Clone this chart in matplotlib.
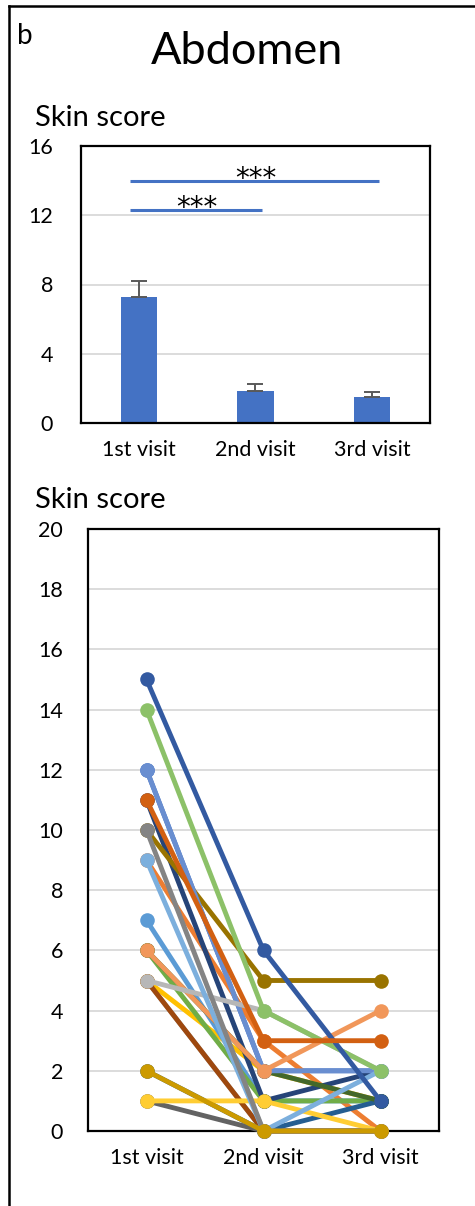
import matplotlib
matplotlib.use("Agg")
import matplotlib.pyplot as plt
from matplotlib.lines import Line2D

plt.rcParams['font.family'] = ['Lato', 'DejaVu Sans']

# ---- summary (mean +/- SEM) ----
visits = ["1st visit", "2nd visit", "3rd visit"]
mean_scores = [7.3, 1.85, 1.5]
sem_scores = [0.9, 0.4, 0.3]
bar_ticks = [0, 4, 8, 12, 16]

# significance brackets: (from visit, to visit, height)
sig_pairs = [(0, 2, 14.0), (0, 1, 12.3)]
sig_label = "***"

# ---- individual patients ----
line_ticks = [0, 2, 4, 6, 8, 10, 12, 14, 16, 18, 20]
patient_colors = [
    "#4472C4", "#ED7D31", "#A5A5A5", "#FFC000", "#5B9BD5", "#70AD47",
    "#264478", "#9E480E", "#636363", "#997300", "#255E91", "#43682B",
    "#698ED0", "#F1975A", "#B7B7B7", "#FFCD33", "#7CAFDD", "#8CC168",
    "#335AA1", "#D26012", "#848484", "#CC9A00",
]
patient_scores = [
    [12, 2, 2], [9, 3, 0], [5, 0, 0], [5, 2, 1], [7, 1, 1], [6, 1, 1],
    [11, 1, 2], [5, 0, 0], [1, 0, 0], [10, 5, 5], [2, 0, 1], [6, 2, 1],
    [12, 2, 2], [6, 2, 4], [5, 4, 2], [1, 1, 0], [9, 0, 2], [14, 4, 2],
    [15, 6, 1], [11, 3, 3], [10, 0, 0], [2, 0, 0],
]

W, H = 475, 1206
fig = plt.figure(figsize=(W / 100, H / 100), dpi=100)

GRID = "#D9D9D9"
BAR = "#4472C4"
TXT = "#000000"


def style_axes(ax):
    for s in ax.spines.values():
        s.set_color("black")
        s.set_linewidth(1.6)
    ax.tick_params(length=0)
    ax.grid(axis="y", color=GRID, linewidth=1.3)
    ax.set_axisbelow(True)


# outer panel frame (left and top edges)
fig.add_artist(Line2D([9 / W, 9 / W], [0, 1 - 6 / H], color="black", lw=1.8))
fig.add_artist(Line2D([9 / W, 1], [1 - 6 / H, 1 - 6 / H], color="black", lw=1.8))

fig.text(17 / W, 1 - 36 / H, "b", fontsize=20, ha="left", va="center", color=TXT)
fig.text(247 / W, 1 - 52 / H, "Abdomen", fontsize=32.5, ha="center", va="center", color=TXT)

# ---- bar chart ----
ax1 = fig.add_axes([81 / W, 1 - 423 / H, 349 / W, 277 / H])
style_axes(ax1)
x = list(range(len(visits)))
ax1.bar(x, mean_scores, width=0.31, color=BAR, zorder=2)
ax1.errorbar(x, mean_scores, yerr=[[0] * len(sem_scores), sem_scores], fmt="none",
             ecolor="#595959", elinewidth=1.4, capsize=6, capthick=1.4, zorder=3)
ax1.set_xlim(-0.5, 2.5)
ax1.set_ylim(0, 16)
ax1.set_yticks(bar_ticks)
ax1.set_xticks(x)
ax1.set_xticklabels(visits, fontsize=15.5)
ax1.tick_params(axis="y", labelsize=15.5, pad=20)
ax1.tick_params(axis="x", pad=12)
for a, b, h in sig_pairs:
    ax1.plot([a - 0.08, b + 0.06], [h, h], color="#4472C4", lw=2.2, zorder=3,
             solid_capstyle="butt")
    ax1.text((a + b) / 2, h - 0.37, sig_label, ha="center", va="baseline",
             fontsize=20, color=TXT, family="DejaVu Sans")
fig.text(35 / W, 1 - 118 / H, "Skin score", fontsize=21, ha="left", va="center", color=TXT)

# ---- individual trajectories ----
ax2 = fig.add_axes([88 / W, 1 - 1131 / H, 351 / W, 602 / H])
style_axes(ax2)
for col, vals in zip(patient_colors, patient_scores):
    ax2.plot(x, vals, color=col, lw=3.5, marker="o", markersize=10.5,
             markeredgewidth=0, solid_capstyle="round", clip_on=False, zorder=3)
ax2.set_xlim(-0.5, 2.5)
ax2.set_ylim(0, 20)
ax2.set_yticks(line_ticks)
ax2.set_xticks(x)
ax2.set_xticklabels(visits, fontsize=15.5)
ax2.tick_params(axis="y", labelsize=15.5, pad=18)
ax2.tick_params(axis="x", pad=12)
fig.text(35 / W, 1 - 500 / H, "Skin score", fontsize=21, ha="left", va="center", color=TXT)

fig.savefig("out.png", dpi=100, facecolor="white")
